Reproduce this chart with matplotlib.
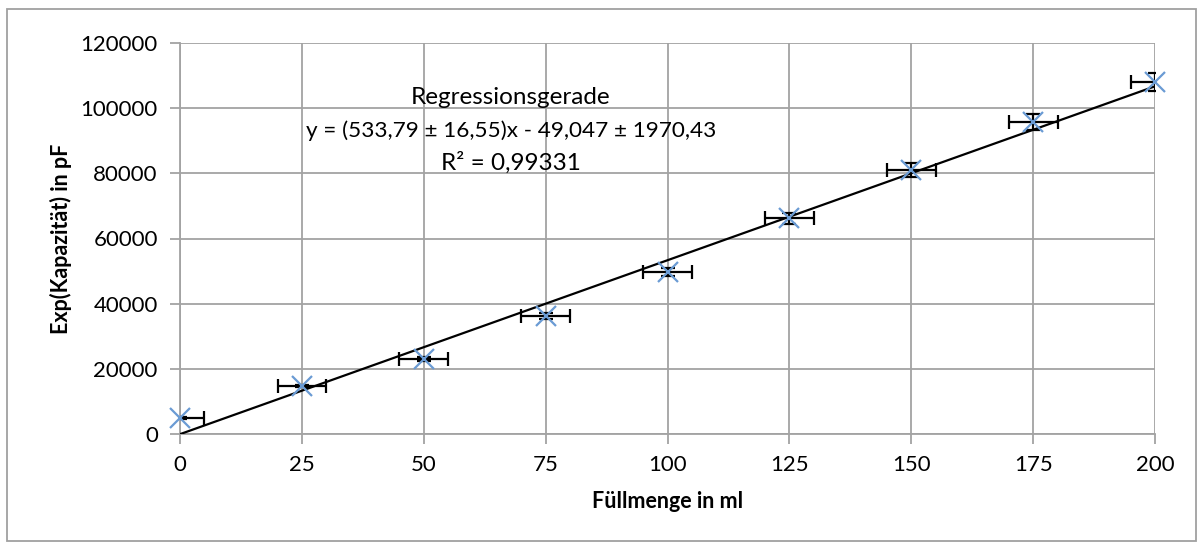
import matplotlib
matplotlib.use("Agg")
import matplotlib.pyplot as plt
from matplotlib.patches import Rectangle
import numpy as np

# Data
fuellmenge = [0, 25, 50, 75, 100, 125, 150, 175, 200]          # ml
kapazitaet = [4900, 14700, 23000, 36300, 49800, 66200, 81000, 95800, 108100]  # pF
x_err = [5, 5, 5, 5, 5, 5, 5, 5, 5]
y_err = [200, 400, 600, 900, 1200, 1600, 2100, 2500, 2800]

# Regression line as stated in the chart
slope = 533.79
intercept = -49.047
fit_range = [0, 200]

x_ticks = [0, 25, 50, 75, 100, 125, 150, 175, 200]
y_ticks = [0, 20000, 40000, 60000, 80000, 100000, 120000]

plt.rcParams['font.family'] = ['Lato', 'DejaVu Sans']

W, H = 1203, 549
fig = plt.figure(figsize=(W / 100, H / 100), dpi=100)
ax = fig.add_axes([180 / W, 1 - 434 / H, (1155 - 180) / W, (434 - 43) / H])

grid_c = '#A3A3A3'
ax.set_xlim(0, 200)
ax.set_ylim(0, 120000)
ax.set_xticks(x_ticks)
ax.set_yticks(y_ticks)
ax.grid(True, color=grid_c, linewidth=1.3, zorder=0)
ax.set_axisbelow(True)
for s in ['top', 'right']:
    ax.spines[s].set_visible(False)
for s in ['left', 'bottom']:
    ax.spines[s].set_color(grid_c)
    ax.spines[s].set_linewidth(1.3)
ax.tick_params(axis='both', direction='out', length=7, width=1.3, color=grid_c,
               labelsize=16, labelcolor='black')
ax.tick_params(axis='x', pad=8)
ax.tick_params(axis='y', pad=9)

# Trendline
xf = np.array(fit_range, dtype=float)
ax.plot(xf, slope * xf + intercept, color='black', linewidth=1.6, zorder=3)

# Error bars
ax.errorbar(fuellmenge, kapazitaet, xerr=x_err, yerr=y_err, fmt='none',
            ecolor='black', elinewidth=1.6, capsize=5, capthick=1.6, zorder=4)

# Markers
ax.plot(fuellmenge, kapazitaet, linestyle='none', marker='x', markersize=14,
        markeredgewidth=1.6, color='#6A9BD4', zorder=5, clip_on=False)

ax.set_xlabel('Füllmenge in ml', fontsize=15.5, fontweight='bold', labelpad=12)
ax.set_ylabel('Exp(Kapazität) in pF', fontsize=15.5, fontweight='bold', labelpad=6)

fig.text(511 / W, 1 - 98 / H, 'Regressionsgerade', ha='center', va='center', fontsize=17.5)
fig.text(511 / W, 1 - 131 / H, 'y = (533,79 ± 16,55)x - 49,047 ± 1970,43',
         ha='center', va='center', fontsize=16.2)
fig.text(511 / W, 1 - 163 / H, 'R² = 0,99331', ha='center', va='center', fontsize=17.5)

# Chart-area border
fig.patches.append(Rectangle((7 / W, 1 - 541 / H), (1196 - 7) / W, (541 - 9) / H,
                             transform=fig.transFigure, fill=False,
                             edgecolor='#A0A0A0', linewidth=1.3))

fig.savefig('out.png', dpi=100)
